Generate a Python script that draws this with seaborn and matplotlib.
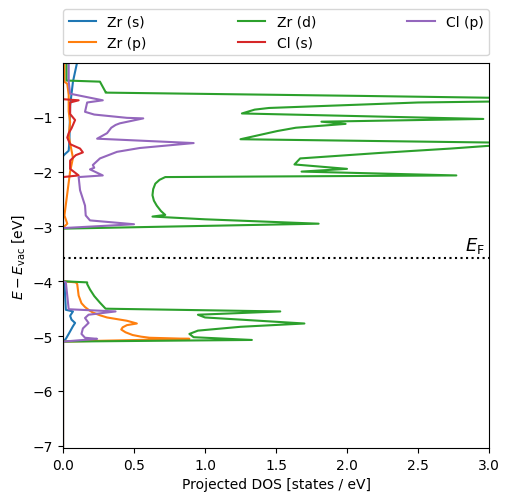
import matplotlib
matplotlib.use("Agg")
import matplotlib.pyplot as plt
import seaborn as sns
import pandas as pd

# ---- data: (energy, DOS) pairs per orbital ----
zr_s_E = [0.0, -0.36, -0.8, -1.45, -1.62, -1.69, -1.72, -4.0, -4.02, -4.52, -4.55, -4.63, -4.70, -4.76, -4.82, -4.96, -5.05, -5.10, -7.1]
zr_s = [0.10, 0.07, 0.05, 0.045, 0.04, 0.01, 0.0, 0.0, 0.01, 0.02, 0.07, 0.05, 0.06, 0.085, 0.07, 0.04, 0.02, 0.0, 0.0]

zr_p_E = [0.0, -0.36, -0.40, -0.6, -0.9, -1.1, -1.35, -1.75, -2.0, -2.4, -2.80, -2.95, -3.0, -3.05,
          -4.0, -4.02, -4.05, -4.26, -4.40, -4.47, -4.53, -4.57, -4.62, -4.66, -4.72, -4.77, -4.80, -4.84, -4.88,
          -4.93, -4.98, -5.01, -5.03, -5.05, -5.10, -7.1]
zr_p = [0.01, 0.01, 0.03, 0.04, 0.04, 0.05, 0.04, 0.07, 0.05, 0.03, 0.01, 0.03, 0.01, 0.0,
        0.0, 0.09, 0.10, 0.11, 0.13, 0.155, 0.185, 0.21, 0.26, 0.31, 0.45, 0.52, 0.45, 0.42, 0.41,
        0.44, 0.49, 0.55, 0.61, 0.89, 0.0, 0.0]

zr_d_E = [0.0, -0.34, -0.36, -0.55, -0.56, -0.62, -0.69, -0.74, -0.84, -0.87, -0.94, -1.04, -1.09, -1.13, -1.20, -1.26,
          -1.41, -1.49, -1.53, -1.58, -1.66, -1.76, -1.87, -1.95, -2.0, -2.07, -2.10, -2.15, -2.22, -2.32, -2.43,
          -2.53, -2.62, -2.72, -2.79, -2.82, -2.87, -2.95, -3.04,
          -4.0, -4.02, -4.05, -4.15, -4.27, -4.39, -4.50, -4.55, -4.61, -4.66, -4.77, -4.83, -4.90, -4.96, -5.02,
          -5.07, -5.10, -7.1]
zr_d = [0.025, 0.025, 0.26, 0.30, 0.30, 2.1, 4.0, 2.5, 1.45, 1.35, 1.26, 2.96, 1.82, 1.99, 1.64, 1.51,
        1.25, 3.6, 3.0, 2.73, 2.23, 1.67, 1.63, 2.0, 1.68, 2.77, 0.72, 0.68, 0.65, 0.635, 0.63,
        0.64, 0.66, 0.69, 0.72, 0.63, 1.0, 1.8, 0.0,
        0.0, 0.17, 0.17, 0.19, 0.22, 0.26, 0.30, 1.53, 0.95, 1.0, 1.70, 1.25, 0.95, 0.89, 0.92,
        1.33, 0.0, 0.0]

cl_s_E = [0.0, -0.68, -0.70, -0.74, -0.95, -1.06, -1.21, -1.30, -1.38, -1.50, -1.58, -1.65, -1.70, -1.80, -1.95, -2.07, -2.10, -7.1]
cl_s = [0.0, 0.0, 0.11, 0.05, 0.05, 0.085, 0.06, 0.04, 0.03, 0.05, 0.12, 0.14, 0.09, 0.05, 0.05, 0.11, 0.0, 0.0]

cl_p_E = [0.0, -0.36, -0.58, -0.70, -0.74, -0.91, -0.96, -1.02, -1.03, -1.12, -1.15, -1.20, -1.30, -1.40, -1.48, -1.57,
          -1.64, -1.76, -1.88, -1.93, -1.96, -2.07, -2.10, -2.34, -2.62, -2.80, -2.89, -2.96, -3.03,
          -4.0, -4.02, -4.51, -4.55, -4.61, -4.67, -4.76, -4.86, -4.96, -5.03, -5.05, -5.10, -7.1]
cl_p = [0.04, 0.04, 0.05, 0.28, 0.17, 0.155, 0.22, 0.45, 0.565, 0.40, 0.37, 0.34, 0.31, 0.24, 0.92, 0.54,
        0.38, 0.26, 0.21, 0.22, 0.19, 0.28, 0.11, 0.12, 0.155, 0.16, 0.19, 0.50, 0.0,
        0.0, 0.02, 0.04, 0.37, 0.18, 0.155, 0.18, 0.14, 0.13, 0.155, 0.24, 0.0, 0.0]

labels = ["Zr (s)", "Zr (p)", "Zr (d)", "Cl (s)", "Cl (p)"]
E_F = -3.58

series = [(zr_s_E, zr_s), (zr_p_E, zr_p), (zr_d_E, zr_d), (cl_s_E, cl_s), (cl_p_E, cl_p)]
frames = []
for lab, (e, d) in zip(labels, series):
    frames.append(pd.DataFrame({"E": e, "dos": d, "orbital": lab}))
df = pd.concat(frames, ignore_index=True)

fig = plt.figure(figsize=(5.09, 5.02), dpi=100)
ax = fig.add_axes([0.1238, 0.1056, 0.9607 - 0.1238, 0.8725 - 0.1056])

colors = ["#1f77b4", "#ff7f0e", "#2ca02c", "#d62728", "#9467bd"]
sns.lineplot(data=df, x="dos", y="E", hue="orbital", hue_order=labels, palette=colors,
             sort=False, estimator=None, linewidth=1.5, ax=ax)

ax.axhline(E_F, color="black", linestyle=":", linewidth=1.5)
ax.text(2.83, E_F + 0.05, r"$E_\mathrm{F}$", fontsize=13, ha="left", va="bottom")

ax.set_xlim(0, 3.0)
ax.set_ylim(-7.04, -0.02)
ax.set_xlabel("Projected DOS [states / eV]")
ax.set_ylabel(r"$E - E_\mathrm{vac}$ [eV]")

handles, labs = ax.get_legend_handles_labels()
ax.legend(handles, labs, bbox_to_anchor=(0, 1.02, 1, 0.102), loc="lower left",
          ncol=3, mode="expand", borderaxespad=0.0)

fig.savefig("out.png", dpi=100)
